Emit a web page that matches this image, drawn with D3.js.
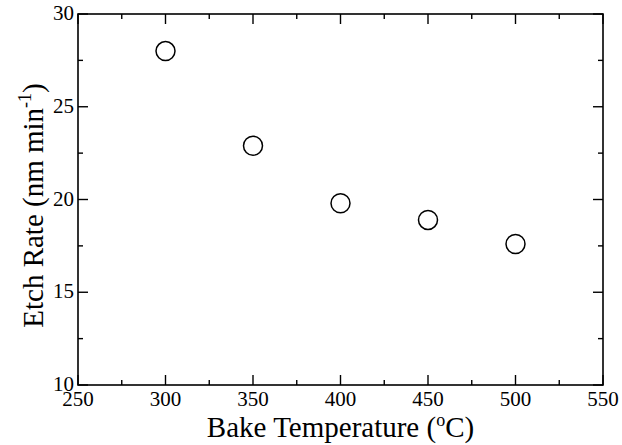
<!DOCTYPE html>
<html>
<head>
<meta charset="utf-8">
<script src="https://cdn.jsdelivr.net/npm/d3@7"></script>
<style>
  body { margin: 0; background: #fff; }
  text { font-family: "Liberation Serif", "DejaVu Serif", serif; fill: #000; }
</style>
</head>
<body>
<svg id="chart" width="622" height="445"></svg>
<script>
// data
const bakeTemps = [300, 350, 400, 450, 500];
const etchRates = [28.0, 22.9, 19.8, 18.9, 17.6];
const xTicks = [250, 300, 350, 400, 450, 500, 550];
const yTicks = [10, 15, 20, 25, 30];

const svg = d3.select('#chart');
const margin = { left: 78, right: 19, top: 14, bottom: 60 };
const W = 622, H = 445;

const x = d3.scaleLinear().domain([250, 550]).range([margin.left, W - margin.right]);
const y = d3.scaleLinear().domain([10, 30]).range([H - margin.bottom, margin.top]);

// frame
svg.append('rect')
  .attr('x', x(250)).attr('y', y(30))
  .attr('width', x(550) - x(250)).attr('height', y(10) - y(30))
  .attr('fill', 'none').attr('stroke', '#000').attr('stroke-width', 1.6);

// ticks (inside, all four sides)
const xMinor = d3.range(275, 550, 50);
const yMinor = d3.range(12.5, 30, 5);
const g = svg.append('g').attr('stroke', '#000').attr('stroke-width', 1.4);
[[xTicks, 10], [xMinor, 5]].forEach(([vals, len]) => {
  vals.forEach(v => {
    g.append('line').attr('x1', x(v)).attr('x2', x(v)).attr('y1', y(10)).attr('y2', y(10) - len);
    g.append('line').attr('x1', x(v)).attr('x2', x(v)).attr('y1', y(30)).attr('y2', y(30) + len);
  });
});
[[yTicks, 10], [yMinor, 5]].forEach(([vals, len]) => {
  vals.forEach(v => {
    g.append('line').attr('y1', y(v)).attr('y2', y(v)).attr('x1', x(250)).attr('x2', x(250) + len);
    g.append('line').attr('y1', y(v)).attr('y2', y(v)).attr('x1', x(550)).attr('x2', x(550) - len);
  });
});

// tick labels
svg.selectAll('.xl').data(xTicks).enter().append('text')
  .attr('x', d => x(d)).attr('y', y(10) + 21)
  .attr('text-anchor', 'middle').style('font-size', '21px')
  .text(d => d);
svg.selectAll('.yl').data(yTicks).enter().append('text')
  .attr('x', x(250) - 4).attr('y', d => y(d) + 6)
  .attr('text-anchor', 'end').style('font-size', '21px')
  .text(d => d);

// axis titles
svg.append('text')
  .attr('x', (x(250) + x(550)) / 2).attr('y', 437)
  .attr('text-anchor', 'middle').style('font-size', '29px')
  .html('Bake Temperature (<tspan dy="-11" font-size="18px">o</tspan><tspan dy="11">C)</tspan>');

svg.append('text')
  .attr('transform', `translate(43, ${(y(10) + y(30)) / 2 + 6}) rotate(-90)`)
  .attr('text-anchor', 'middle').style('font-size', '29px')
  .html('Etch Rate (nm min<tspan dy="-12" font-size="18px">-1</tspan><tspan dy="12">)</tspan>');

// points
svg.selectAll('circle').data(bakeTemps).enter().append('circle')
  .attr('cx', d => x(d))
  .attr('cy', (d, i) => y(etchRates[i]))
  .attr('r', 9.5)
  .attr('fill', 'none').attr('stroke', '#000').attr('stroke-width', 1.5);
</script>
</body>
</html>
